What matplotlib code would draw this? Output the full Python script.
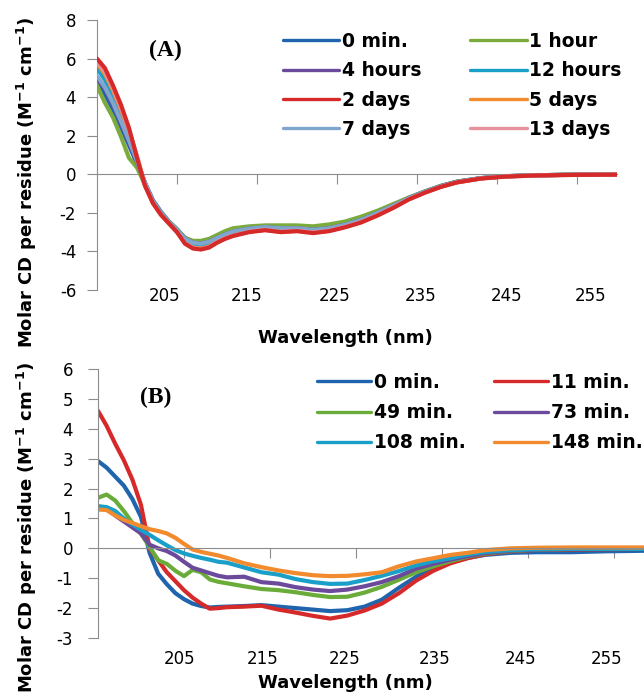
import matplotlib.pyplot as plt
import numpy as np

# ---- panel A data: stability over days ----
wl_a = [195, 196, 197, 198, 199, 200, 201, 202, 203, 204, 205, 206, 207, 208, 209, 210, 211, 212,
        214, 216, 218, 220, 222, 224, 226, 228, 230, 232, 234, 236, 238, 240, 243, 246, 250, 255, 260]
a_0min = [4.75, 4.15, 3.35, 2.45, 1.5, 0.55, -0.45, -1.35, -1.95, -2.45, -2.85, -3.3, -3.5, -3.55, -3.45, -3.28, -3.1, -2.95,
          -2.8, -2.72, -2.78, -2.78, -2.85, -2.78, -2.6, -2.35, -2.0, -1.62, -1.22, -0.9, -0.6, -0.38, -0.2, -0.1, -0.05, -0.02, -0.01]
a_1hour = [4.6, 3.7, 2.95, 1.95, 0.85, 0.35, -0.55, -1.4, -2.0, -2.45, -2.85, -3.3, -3.45, -3.45, -3.35, -3.15, -2.95, -2.8,
           -2.7, -2.65, -2.65, -2.65, -2.7, -2.6, -2.45, -2.2, -1.9, -1.55, -1.2, -0.88, -0.6, -0.38, -0.2, -0.1, -0.05, -0.02, -0.02]
a_4hours = [5.0, 4.4, 3.6, 2.65, 1.65, 0.65, -0.45, -1.4, -2.0, -2.5, -2.9, -3.35, -3.55, -3.6, -3.5, -3.3, -3.12, -2.98,
            -2.82, -2.75, -2.8, -2.8, -2.88, -2.8, -2.62, -2.37, -2.02, -1.64, -1.24, -0.9, -0.62, -0.4, -0.2, -0.1, -0.05, -0.02, -0.01]
a_12hours = [5.5, 4.9, 4.0, 3.0, 1.95, 0.8, -0.5, -1.45, -2.05, -2.5, -2.92, -3.45, -3.68, -3.72, -3.62, -3.4, -3.2, -3.05,
             -2.88, -2.8, -2.85, -2.85, -2.92, -2.85, -2.67, -2.42, -2.06, -1.68, -1.26, -0.92, -0.63, -0.4, -0.21, -0.11, -0.05, -0.02, -0.01]
a_2days = [6.0, 5.5, 4.6, 3.6, 2.4, 0.85, -0.6, -1.5, -2.1, -2.55, -3.0, -3.6, -3.85, -3.9, -3.8, -3.55, -3.35, -3.2,
           -3.0, -2.9, -3.0, -2.95, -3.05, -2.95, -2.75, -2.5, -2.15, -1.75, -1.3, -0.95, -0.65, -0.42, -0.22, -0.12, -0.06, -0.03, -0.02]
a_5days = [5.75, 5.2, 4.35, 3.35, 2.2, 0.9, -0.55, -1.5, -2.1, -2.55, -2.97, -3.55, -3.8, -3.85, -3.75, -3.5, -3.3, -3.15,
           -2.95, -2.88, -2.95, -2.92, -3.0, -2.92, -2.72, -2.47, -2.12, -1.72, -1.28, -0.94, -0.64, -0.41, -0.21, -0.11, -0.05, -0.02, -0.01]
a_7days = [5.1, 4.5, 3.7, 2.75, 1.75, 0.7, -0.45, -1.4, -2.0, -2.48, -2.88, -3.35, -3.55, -3.6, -3.5, -3.3, -3.12, -2.97,
           -2.82, -2.74, -2.8, -2.8, -2.88, -2.8, -2.62, -2.37, -2.02, -1.64, -1.24, -0.9, -0.62, -0.4, -0.2, -0.1, -0.05, -0.02, -0.01]
a_13days = [5.85, 5.3, 4.45, 3.45, 2.3, 0.95, -0.55, -1.5, -2.1, -2.55, -3.0, -3.58, -3.82, -3.88, -3.78, -3.52, -3.32, -3.18,
            -2.98, -2.88, -2.98, -2.93, -3.02, -2.93, -2.73, -2.48, -2.13, -1.73, -1.29, -0.95, -0.65, -0.42, -0.22, -0.12, -0.06, -0.03, -0.02]
labels_a = ['0 min.', '1 hour', '4 hours', '12 hours', '2 days', '5 days', '7 days', '13 days']
colors_a = ['#1f64ad', '#7aab3c', '#6b4a9b', '#1aa0c8', '#d62a2a', '#f28a2e', '#7ea6cf', '#e6919b']

# ---- panel B data: minutes ----
wl_b = [195, 196, 197, 198, 199, 200, 201, 202, 203, 204, 205, 206, 207, 208, 209, 210, 212, 214,
        216, 218, 220, 222, 224, 226, 228, 230, 232, 234, 236, 238, 240, 243, 246, 250, 254, 259]
b_0min = [2.92, 2.7, 2.4, 2.1, 1.65, 1.05, -0.15, -0.85, -1.2, -1.5, -1.7, -1.85, -1.93, -1.98, -1.96, -1.95, -1.93, -1.9,
          -1.95, -2.0, -2.05, -2.1, -2.07, -1.95, -1.72, -1.32, -0.95, -0.68, -0.47, -0.32, -0.22, -0.15, -0.13, -0.13, -0.1, -0.08]
b_11min = [4.6, 4.1, 3.5, 2.95, 2.3, 1.45, 0.0, -0.4, -0.8, -1.1, -1.4, -1.65, -1.85, -2.02, -2.0, -1.97, -1.95, -1.92,
           -2.05, -2.15, -2.26, -2.35, -2.25, -2.08, -1.85, -1.5, -1.08, -0.75, -0.5, -0.33, -0.2, -0.1, -0.05, -0.04, -0.03, -0.02]
b_49min = [1.69, 1.8, 1.6, 1.25, 0.85, 0.48, 0.05, -0.4, -0.52, -0.75, -0.93, -0.72, -0.8, -1.04, -1.12, -1.17, -1.27, -1.36,
           -1.4, -1.47, -1.56, -1.63, -1.62, -1.48, -1.29, -1.05, -0.8, -0.6, -0.43, -0.28, -0.18, -0.09, -0.04, -0.02, -0.02, -0.02]
b_73min = [1.4, 1.32, 1.1, 0.9, 0.7, 0.5, 0.12, 0.0, -0.09, -0.24, -0.45, -0.65, -0.74, -0.83, -0.92, -0.97, -0.95, -1.13,
           -1.18, -1.3, -1.38, -1.43, -1.38, -1.27, -1.13, -0.93, -0.68, -0.52, -0.38, -0.26, -0.16, -0.08, -0.04, -0.02, -0.02, -0.02]
b_108min = [1.41, 1.38, 1.25, 1.0, 0.8, 0.62, 0.45, 0.27, 0.1, -0.06, -0.17, -0.25, -0.32, -0.38, -0.45, -0.48, -0.64, -0.8,
            -0.88, -1.03, -1.13, -1.19, -1.18, -1.06, -0.92, -0.76, -0.57, -0.43, -0.33, -0.21, -0.12, -0.06, -0.03, -0.02, -0.02, -0.02]
b_148min = [1.3, 1.28, 1.1, 0.95, 0.85, 0.74, 0.64, 0.58, 0.5, 0.35, 0.15, -0.04, -0.12, -0.18, -0.24, -0.32, -0.5, -0.63,
            -0.74, -0.83, -0.9, -0.93, -0.92, -0.87, -0.8, -0.6, -0.44, -0.33, -0.22, -0.15, -0.06, 0.0, 0.02, 0.03, 0.03, 0.03]
labels_b = ['0 min.', '11 min.', '49 min.', '73 min.', '108 min.', '148 min.']
colors_b = ['#1f64ad', '#d62a2a', '#6aac3a', '#6b4a9b', '#1aa0c8', '#f28a2e']

xticks = [205, 215, 225, 235, 245, 255]
# Excel put the category labels a bit off the tick marks
xlabel_pos_a = [203.4, 213.75, 224.75, 235.4, 246.25, 256.75]
xlabel_pos_b = [204.5, 214.1, 223.7, 234.1, 244.1, 254.2]

W, H = 644, 696
GRAY = '#8c8c8c'
plt.rcParams['font.family'] = ['DejaVu Sans']
plt.rcParams['mathtext.default'] = 'regular'
plt.rcParams['axes.unicode_minus'] = False

fig = plt.figure(figsize=(W / 100, H / 100), dpi=100)


def box(left, top, right, bottom):
    return [left / W, 1 - bottom / H, (right - left) / W, (bottom - top) / H]


def style_axes(ax, label_pos, label_pad, ypad):
    for s in ['top', 'right']:
        ax.spines[s].set_visible(False)
    ax.spines['left'].set_color(GRAY)
    ax.spines['bottom'].set_color(GRAY)
    ax.spines['bottom'].set_position(('data', 0))
    ax.set_xticks(xticks)
    ax.tick_params(axis='x', direction='out', length=7, color=GRAY, labelbottom=False)
    ax.tick_params(axis='y', direction='out', length=7, color=GRAY, labelsize=12, pad=ypad)
    sec = ax.secondary_xaxis('bottom')
    sec.spines['bottom'].set_visible(False)
    sec.set_xticks(label_pos)
    sec.set_xticklabels([str(t) for t in xticks])
    sec.tick_params(length=0, labelsize=12, pad=label_pad)


# ---- panel A ----
ax_a = fig.add_axes(box(97, 20, 617, 290))
series_a = [a_0min, a_1hour, a_4hours, a_12hours, a_2days, a_5days, a_7days, a_13days]
lines_a = []
for i, (vals, lab, col) in enumerate(zip(series_a, labels_a, colors_a)):
    z = 10 if lab == '2 days' else 2 + i
    ln, = ax_a.plot(wl_a, vals, color=col, lw=3.0, label=lab, zorder=z,
                    solid_capstyle='round', solid_joinstyle='round')
    lines_a.append(ln)
ax_a.set_xlim(195, 260)
ax_a.set_ylim(-6, 8)
ax_a.set_yticks(range(-6, 9, 2))
style_axes(ax_a, xlabel_pos_a, -2, 8)

order_a = [0, 2, 4, 6, 1, 3, 5, 7]
leg_a = ax_a.legend([lines_a[i] for i in order_a], [labels_a[i] for i in order_a],
                    ncol=2, frameon=False, loc='upper left',
                    bbox_to_anchor=(283 / W, 1 - 32 / H), bbox_transform=fig.transFigure,
                    borderpad=0, borderaxespad=0, handlelength=3.0, handletextpad=0.15,
                    columnspacing=2.6, labelspacing=0.55,
                    prop={'size': 13.5, 'weight': 'bold'})
for ln in leg_a.get_lines():
    ln.set_linewidth(2.4)

# ---- panel B ----
ax_b = fig.add_axes(box(98, 369, 644, 638))
series_b = [b_0min, b_11min, b_49min, b_73min, b_108min, b_148min]
lines_b = []
for vals, lab, col in zip(series_b, labels_b, colors_b):
    ln, = ax_b.plot(wl_b, vals, color=col, lw=3.0, label=lab,
                    solid_capstyle='round', solid_joinstyle='round')
    lines_b.append(ln)
ax_b.set_xlim(195, 258.5)
ax_b.set_ylim(-3, 6)
ax_b.set_yticks(range(-3, 7))
style_axes(ax_b, xlabel_pos_b, 9, 11)

order_b = [0, 2, 4, 1, 3, 5]
leg_b = ax_b.legend([lines_b[i] for i in order_b], [labels_b[i] for i in order_b],
                    ncol=2, frameon=False, loc='upper left',
                    bbox_to_anchor=(317 / W, 1 - 373 / H), bbox_transform=fig.transFigure,
                    borderpad=0, borderaxespad=0, handlelength=2.9, handletextpad=0.15,
                    columnspacing=1.5, labelspacing=0.6,
                    prop={'size': 13.5, 'weight': 'bold'})
for ln in leg_b.get_lines():
    ln.set_linewidth(2.4)

# ---- texts ----
ylab = 'Molar CD per residue (M$^{-1}$ cm$^{-1}$)'
fig.text(27 / W, 1 - 182 / H, ylab, rotation=90, ha='center', va='center', fontsize=13, fontweight='bold')
fig.text(27 / W, 1 - 527 / H, ylab, rotation=90, ha='center', va='center', fontsize=13, fontweight='bold')
fig.text(345 / W, 1 - 338 / H, 'Wavelength (nm)', ha='center', va='center', fontsize=13, fontweight='bold')
fig.text(345 / W, 1 - 683 / H, 'Wavelength (nm)', ha='center', va='center', fontsize=13, fontweight='bold')
fig.text(165 / W, 1 - 50 / H, '(A)', ha='center', va='center', fontsize=17, fontweight='bold',
         family='Liberation Serif')
fig.text(156 / W, 1 - 397 / H, '(B)', ha='center', va='center', fontsize=17, fontweight='bold',
         family='Liberation Serif')

fig.savefig('out.png', dpi=100)
